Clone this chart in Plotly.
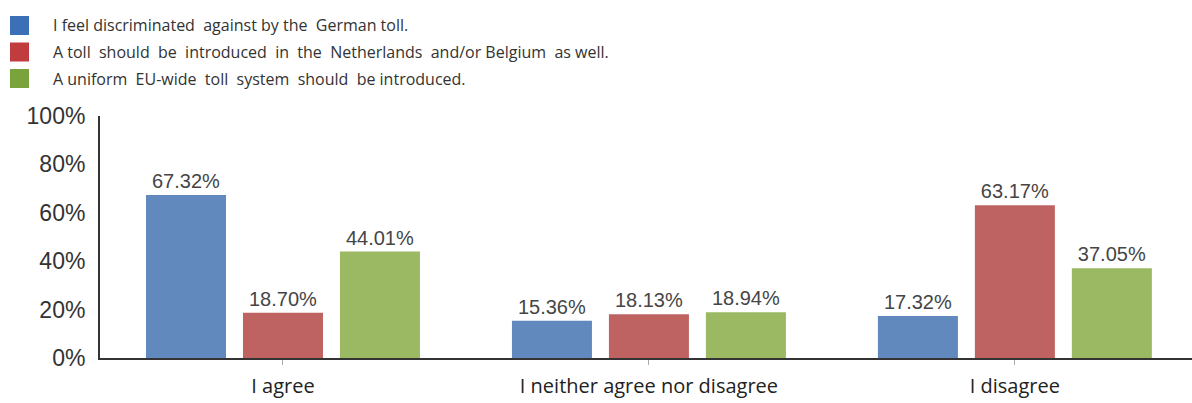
import plotly.graph_objects as go

# Survey answers (share of respondents, %)
categories = ["I agree", "I neither agree nor disagree", "I disagree"]
series_names = [
    "I feel discriminated  against by the  German toll.",
    "A toll  should  be  introduced  in  the  Netherlands  and/or Belgium  as well.",
    "A uniform  EU-wide  toll  system  should  be introduced.",
]
discriminated = [67.32, 15.36, 17.32]
toll_nl_be = [18.70, 18.13, 63.17]
eu_wide = [44.01, 18.94, 37.05]
y_ticks = [0, 20, 40, 60, 80, 100]
y_tick_labels = ["0%", "20%", "40%", "60%", "80%", "100%"]

bar_colors = ["#6189bd", "#bf6262", "#9bb862"]
legend_colors = ["#3b70b6", "#c03c3e", "#7aa33c"]

W, H = 1192, 403
M_L, M_R, M_T, M_B = 100, 0, 116, 45
plot_w = W - M_L - M_R
plot_h = H - M_T - M_B

fig = go.Figure()
for name, vals, col in zip(series_names, [discriminated, toll_nl_be, eu_wide], bar_colors):
    fig.add_trace(go.Bar(
        x=categories, y=vals, name=name,
        marker=dict(color=col, line=dict(width=0)),
        text=[f"{v:.2f}%" for v in vals],
        textposition="outside",
        textfont=dict(family="Liberation Sans, Arial", size=20, color="#454545"),
        cliponaxis=False,
        showlegend=False,
    ))


def px_x(px):
    return (px - M_L) / plot_w


def px_y(py):
    return (H - M_B - py) / plot_h


# Hand-built legend: coloured square + label per series
shapes = []
annotations = []
for i, (name, col) in enumerate(zip(series_names, legend_colors)):
    top = 16 + i * 26.5
    shapes.append(dict(
        type="rect", xref="paper", yref="paper",
        x0=px_x(10), x1=px_x(29), y0=px_y(top + 19), y1=px_y(top),
        fillcolor=col, line=dict(width=0),
    ))
    annotations.append(dict(
        xref="paper", yref="paper", x=px_x(51), y=px_y(top + 9.5),
        xanchor="left", yanchor="middle", showarrow=False,
        text=name,
        font=dict(family="Open Sans", size=16, color="#333333"),
    ))

fig.update_layout(
    width=W, height=H,
    margin=dict(l=M_L, r=M_R, t=M_T, b=M_B),
    paper_bgcolor="white", plot_bgcolor="white",
    barmode="group", bargap=0.205, bargroupgap=0.175,
    shapes=shapes, annotations=annotations,
    showlegend=False,
    xaxis=dict(
        range=[-0.5, 2.484],
        showline=True, linecolor="#333333", linewidth=2,
        ticks="outside", ticklen=5, tickcolor="#aaaaaa",
        ticklabelstandoff=4,
        tickfont=dict(family="Open Sans", size=20, color="#222222"),
        showgrid=False, zeroline=False,
    ),
    yaxis=dict(
        range=[0, 100],
        tickvals=y_ticks, ticktext=y_tick_labels,
        showline=True, linecolor="#333333", linewidth=2,
        ticks="", ticklabelstandoff=8,
        tickfont=dict(family="Liberation Sans, Arial", size=23, color="#333333"),
        showgrid=False, zeroline=False,
    ),
)

fig.write_html("out.html")
